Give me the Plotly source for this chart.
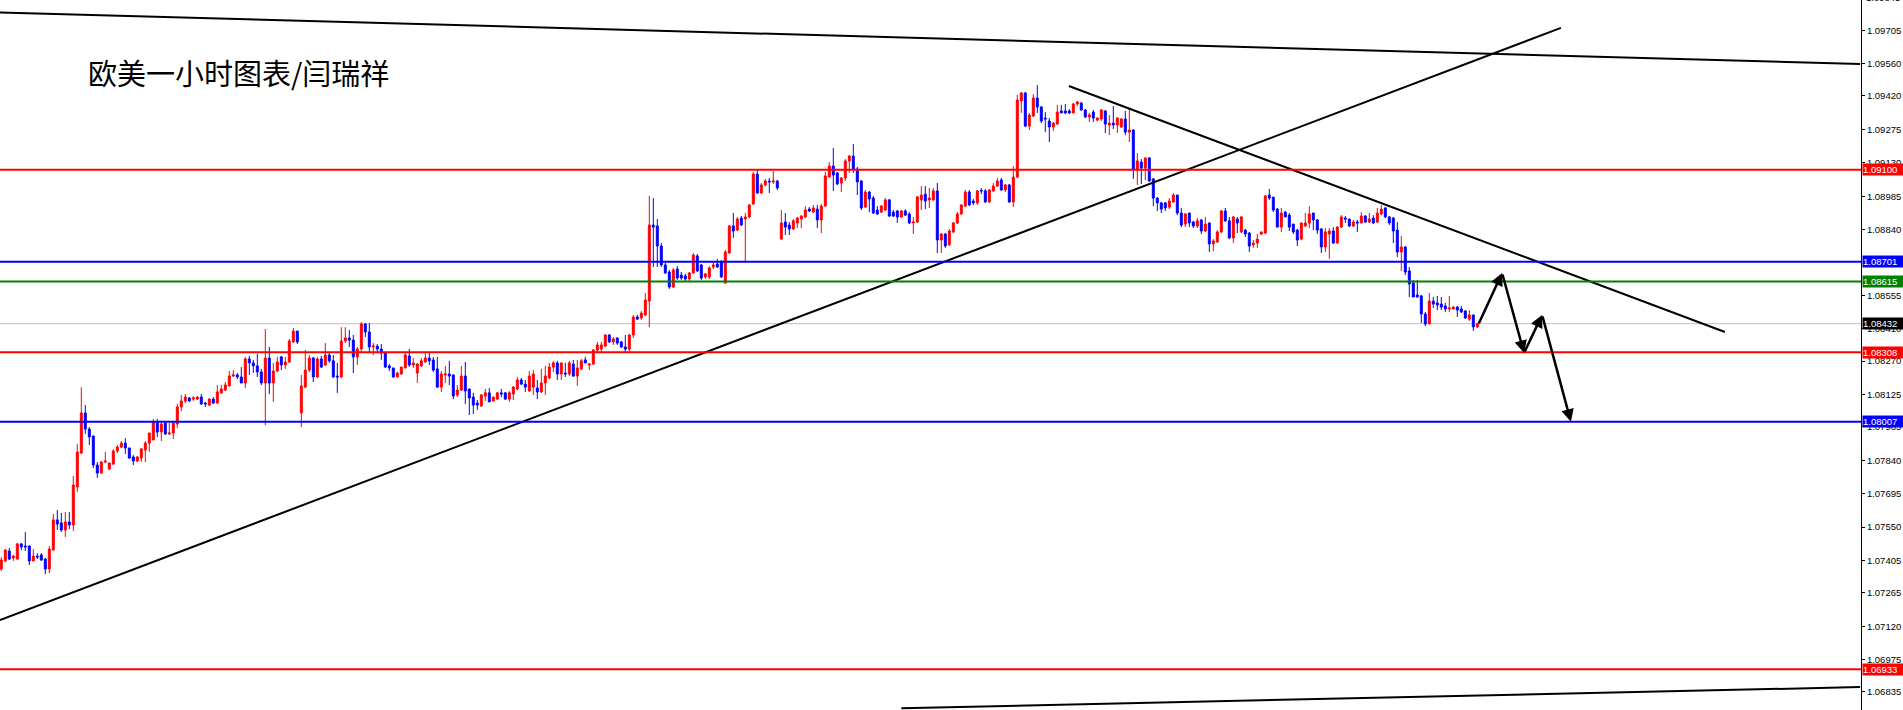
import plotly.graph_objects as go

# ---------------- OHLC data (EURUSD H1) ----------------
opens = [
1.07368,1.07403,1.07446,1.07416,1.07411,1.07477,1.07468,1.07468,1.07403,1.07424,
1.07429,1.07411,1.07368,1.07450,1.07581,1.07568,1.07537,1.07572,1.07559,1.07724,
1.07871,1.08045,1.07975,1.07945,1.07819,1.07784,1.07832,1.07802,1.07823,1.07880,
1.07897,1.07914,1.07893,1.07854,1.07836,1.07849,1.07884,1.07914,1.07928,1.08001,
1.07962,1.08001,1.07954,1.07958,1.07997,1.08071,1.08097,1.08110,1.08105,1.08105,
1.08114,1.08088,1.08079,1.08105,1.08088,1.08132,1.08144,1.08162,1.08205,1.08210,
1.08201,1.08175,1.08279,1.08262,1.08249,1.08223,1.08175,1.08283,1.08175,1.08227,
1.08288,1.08253,1.08266,1.08353,1.08400,1.08045,1.08157,1.08231,1.08283,1.08201,
1.08279,1.08253,1.08296,1.08271,1.08205,1.08201,1.08357,1.08370,1.08361,1.08288,
1.08322,1.08431,1.08396,1.08331,1.08335,1.08322,1.08305,1.08249,1.08240,1.08201,
1.08214,1.08240,1.08292,1.08253,1.08218,1.08249,1.08266,1.08283,1.08275,1.08236,
1.08157,1.08210,1.08214,1.08210,1.08123,1.08144,1.08205,1.08149,1.08114,1.08088,
1.08075,1.08118,1.08132,1.08097,1.08105,1.08132,1.08132,1.08105,1.08127,1.08149,
1.08188,1.08170,1.08140,1.08157,1.08153,1.08136,1.08175,1.08197,1.08244,1.08262,
1.08214,1.08218,1.08214,1.08257,1.08205,1.08236,1.08275,1.08253,1.08257,1.08318,
1.08322,1.08335,1.08383,1.08353,1.08370,1.08353,1.08331,1.08322,1.08383,1.08461,
1.08457,1.08470,1.08530,1.08860,1.08856,1.08769,1.08687,1.08656,1.08591,1.08669,
1.08643,1.08639,1.08626,1.08652,1.08726,1.08687,1.08635,1.08635,1.08678,1.08691,
1.08700,1.08609,1.08739,1.08856,1.08838,1.08890,1.08886,1.08895,1.08951,1.09081,
1.08999,1.09034,1.09051,1.09047,1.09051,1.08799,1.08873,1.08860,1.08843,1.08869,
1.08886,1.08895,1.08929,1.08916,1.08929,1.08882,1.08942,1.09068,1.09116,1.09086,
1.09042,1.09064,1.09138,1.09159,1.09103,1.09051,1.08938,1.09003,1.08977,1.08925,
1.08916,1.08925,1.08969,1.08916,1.08921,1.08895,1.08921,1.08908,1.08869,1.08873,
1.08969,1.08994,1.08969,1.08969,1.09008,1.08795,1.08821,1.08774,1.08830,1.08869,
1.08908,1.08942,1.09003,1.08964,1.08956,1.09010,1.09008,1.08960,1.09008,1.09029,
1.09055,1.09012,1.09034,1.08960,1.09068,1.09398,1.09433,1.09289,1.09333,1.09411,
1.09372,1.09324,1.09311,1.09285,1.09298,1.09355,1.09355,1.09355,1.09346,1.09385,
1.09389,1.09359,1.09329,1.09350,1.09315,1.09320,1.09355,1.09294,1.09302,1.09294,
1.09285,1.09320,1.09263,1.09272,1.09099,1.09133,1.09107,1.09151,1.09060,1.08977,
1.08956,1.08956,1.08938,1.08960,1.08990,1.08912,1.08864,1.08912,1.08873,1.08856,
1.08882,1.08834,1.08869,1.08778,1.08787,1.08830,1.08921,1.08878,1.08804,1.08886,
1.08830,1.08838,1.08825,1.08774,1.08782,1.08821,1.08825,1.08990,1.08981,1.08929,
1.08851,1.08916,1.08903,1.08864,1.08838,1.08799,1.08856,1.08869,1.08912,1.08882,
1.08843,1.08765,1.08821,1.08834,1.08782,1.08851,1.08890,1.08886,1.08856,1.08873,
1.08869,1.08899,1.08873,1.08890,1.08873,1.08908,1.08934,1.08895,1.08890,1.08838,
1.08743,1.08765,1.08661,1.08609,1.08557,1.08553,1.08474,1.08431,1.08530,1.08522,
1.08517,1.08509,1.08496,1.08496,1.08504,1.08496,1.08487,1.08452,1.08470,1.08418,
]

highs = [
1.07420,1.07455,1.07459,1.07429,1.07481,1.07481,1.07528,1.07469,1.07455,1.07437,
1.07437,1.07416,1.07468,1.07607,1.07624,1.07611,1.07615,1.07615,1.07772,1.07910,
1.08157,1.08079,1.07984,1.07946,1.07832,1.07836,1.07876,1.07829,1.07889,1.07906,
1.07923,1.07936,1.07894,1.07862,1.07858,1.07893,1.07923,1.07959,1.08019,1.08019,
1.08001,1.08002,1.08001,1.08002,1.08084,1.08123,1.08127,1.08114,1.08118,1.08118,
1.08127,1.08093,1.08110,1.08114,1.08166,1.08166,1.08179,1.08227,1.08231,1.08218,
1.08244,1.08288,1.08292,1.08275,1.08301,1.08236,1.08409,1.08331,1.08262,1.08288,
1.08292,1.08288,1.08366,1.08413,1.08401,1.08210,1.08318,1.08296,1.08288,1.08288,
1.08292,1.08348,1.08309,1.08296,1.08262,1.08417,1.08417,1.08405,1.08383,1.08331,
1.08439,1.08435,1.08435,1.08348,1.08344,1.08344,1.08309,1.08257,1.08241,1.08223,
1.08245,1.08305,1.08322,1.08283,1.08262,1.08283,1.08305,1.08305,1.08288,1.08288,
1.08227,1.08249,1.08271,1.08211,1.08166,1.08249,1.08266,1.08149,1.08132,1.08101,
1.08127,1.08149,1.08153,1.08115,1.08136,1.08149,1.08136,1.08140,1.08162,1.08201,
1.08197,1.08188,1.08227,1.08231,1.08188,1.08236,1.08249,1.08262,1.08271,1.08271,
1.08263,1.08262,1.08271,1.08275,1.08275,1.08279,1.08288,1.08262,1.08322,1.08353,
1.08353,1.08387,1.08387,1.08374,1.08374,1.08357,1.08383,1.08387,1.08470,1.08470,
1.08487,1.08565,1.08986,1.08977,1.08886,1.08782,1.08695,1.08665,1.08674,1.08682,
1.08656,1.08648,1.08656,1.08739,1.08734,1.08691,1.08652,1.08682,1.08700,1.08713,
1.08708,1.08752,1.08860,1.08912,1.08895,1.08899,1.08912,1.08951,1.09090,1.09099,
1.09042,1.09060,1.09064,1.09094,1.09055,1.08925,1.08912,1.08873,1.08886,1.08895,
1.08903,1.08942,1.08938,1.08947,1.08947,1.08951,1.09090,1.09133,1.09194,1.09090,
1.09068,1.09146,1.09164,1.09211,1.09112,1.09055,1.09012,1.09008,1.08986,1.08942,
1.08947,1.08977,1.08973,1.08925,1.08925,1.08925,1.08929,1.08916,1.08895,1.08986,
1.09029,1.09029,1.09021,1.09021,1.09042,1.08825,1.08825,1.08843,1.08873,1.08916,
1.08951,1.09012,1.09012,1.08973,1.09012,1.09021,1.09016,1.09016,1.09042,1.09064,
1.09064,1.09038,1.09038,1.09116,1.09424,1.09437,1.09437,1.09346,1.09428,1.09467,
1.09376,1.09350,1.09324,1.09307,1.09381,1.09381,1.09385,1.09363,1.09389,1.09398,
1.09394,1.09363,1.09346,1.09359,1.09328,1.09363,1.09359,1.09337,1.09376,1.09328,
1.09324,1.09355,1.09368,1.09276,1.09172,1.09146,1.09152,1.09155,1.09064,1.08981,
1.08960,1.08960,1.08977,1.08999,1.08991,1.08934,1.08912,1.08913,1.08878,1.08890,
1.08886,1.08895,1.08870,1.08799,1.08838,1.08925,1.08934,1.08895,1.08899,1.08895,
1.08899,1.08843,1.08830,1.08795,1.08821,1.08831,1.08990,1.09016,1.08982,1.08934,
1.08934,1.08921,1.08912,1.08865,1.08843,1.08870,1.08912,1.08942,1.08913,1.08886,
1.08847,1.08847,1.08847,1.08851,1.08856,1.08903,1.08899,1.08887,1.08882,1.08882,
1.08916,1.08903,1.08912,1.08903,1.08934,1.08947,1.08938,1.08899,1.08895,1.08873,
1.08812,1.08769,1.08678,1.08622,1.08622,1.08554,1.08483,1.08565,1.08548,1.08552,
1.08548,1.08522,1.08552,1.08509,1.08509,1.08509,1.08491,1.08491,1.08471,1.08435,
]

lows = [
1.07359,1.07398,1.07407,1.07403,1.07410,1.07450,1.07446,1.07385,1.07402,1.07411,
1.07403,1.07346,1.07350,1.07449,1.07537,1.07529,1.07507,1.07541,1.07533,1.07702,
1.07867,1.07954,1.07906,1.07806,1.07763,1.07783,1.07828,1.07797,1.07819,1.07871,
1.07893,1.07867,1.07848,1.07819,1.07832,1.07832,1.07832,1.07876,1.07927,1.07941,
1.07923,1.07949,1.07949,1.07932,1.07980,1.08053,1.08088,1.08093,1.08097,1.08101,
1.08079,1.08071,1.08075,1.08084,1.08084,1.08127,1.08140,1.08161,1.08201,1.08192,
1.08174,1.08153,1.08210,1.08218,1.08201,1.08166,1.07992,1.08127,1.08093,1.08222,
1.08231,1.08236,1.08262,1.08348,1.08344,1.07984,1.08153,1.08222,1.08179,1.08197,
1.08240,1.08249,1.08262,1.08197,1.08132,1.08197,1.08348,1.08331,1.08218,1.08253,
1.08309,1.08374,1.08309,1.08296,1.08309,1.08275,1.08240,1.08227,1.08197,1.08200,
1.08210,1.08239,1.08244,1.08240,1.08175,1.08244,1.08262,1.08253,1.08222,1.08153,
1.08136,1.08175,1.08166,1.08105,1.08114,1.08140,1.08084,1.08036,1.08040,1.08058,
1.08071,1.08097,1.08092,1.08093,1.08101,1.08114,1.08101,1.08093,1.08101,1.08144,
1.08166,1.08136,1.08136,1.08123,1.08105,1.08132,1.08123,1.08192,1.08222,1.08188,
1.08188,1.08201,1.08205,1.08201,1.08162,1.08231,1.08261,1.08231,1.08253,1.08305,
1.08309,1.08331,1.08348,1.08340,1.08340,1.08327,1.08309,1.08309,1.08370,1.08448,
1.08448,1.08465,1.08417,1.08678,1.08678,1.08678,1.08648,1.08583,1.08587,1.08622,
1.08622,1.08617,1.08617,1.08648,1.08656,1.08622,1.08626,1.08626,1.08669,1.08674,
1.08630,1.08604,1.08734,1.08804,1.08834,1.08856,1.08695,1.08890,1.08947,1.08995,
1.08995,1.09029,1.08999,1.09038,1.09012,1.08795,1.08817,1.08817,1.08838,1.08847,
1.08847,1.08890,1.08916,1.08912,1.08847,1.08825,1.08941,1.09067,1.09008,1.09034,
1.09003,1.09051,1.09086,1.09086,1.08990,1.08925,1.08934,1.08916,1.08908,1.08903,
1.08912,1.08921,1.08895,1.08895,1.08869,1.08890,1.08899,1.08864,1.08821,1.08869,
1.08925,1.08929,1.08934,1.08964,1.08739,1.08739,1.08761,1.08769,1.08825,1.08864,
1.08903,1.08938,1.08942,1.08947,1.08947,1.08994,1.08956,1.08956,1.09003,1.09025,
1.09008,1.09003,1.08956,1.08938,1.09064,1.09346,1.09285,1.09272,1.09328,1.09346,
1.09302,1.09263,1.09220,1.09268,1.09294,1.09345,1.09341,1.09341,1.09345,1.09376,
1.09355,1.09324,1.09307,1.09307,1.09311,1.09311,1.09259,1.09250,1.09276,1.09259,
1.09281,1.09250,1.09220,1.09060,1.09034,1.09038,1.09055,1.09047,1.08942,1.08921,
1.08912,1.08921,1.08929,1.08956,1.08903,1.08851,1.08851,1.08851,1.08847,1.08847,
1.08821,1.08830,1.08743,1.08747,1.08782,1.08825,1.08873,1.08799,1.08782,1.08825,
1.08825,1.08808,1.08743,1.08761,1.08761,1.08817,1.08821,1.08968,1.08916,1.08850,
1.08830,1.08894,1.08834,1.08821,1.08769,1.08794,1.08851,1.08847,1.08838,1.08821,
1.08739,1.08743,1.08713,1.08778,1.08778,1.08847,1.08869,1.08851,1.08851,1.08830,
1.08868,1.08869,1.08869,1.08864,1.08869,1.08903,1.08890,1.08860,1.08782,1.08721,
1.08661,1.08643,1.08548,1.08547,1.08544,1.08435,1.08422,1.08430,1.08500,1.08491,
1.08491,1.08483,1.08483,1.08495,1.08461,1.08478,1.08452,1.08444,1.08401,1.08413,
]

closes = [
1.07407,1.07450,1.07411,1.07424,1.07477,1.07464,1.07464,1.07403,1.07424,1.07420,
1.07407,1.07368,1.07455,1.07581,1.07563,1.07537,1.07572,1.07559,1.07732,1.07876,
1.08045,1.07975,1.07941,1.07819,1.07784,1.07832,1.07836,1.07828,1.07880,1.07897,
1.07914,1.07893,1.07849,1.07836,1.07854,1.07889,1.07914,1.07958,1.08006,1.07962,
1.07997,1.07954,1.07958,1.08001,1.08071,1.08097,1.08114,1.08097,1.08110,1.08114,
1.08084,1.08084,1.08105,1.08088,1.08136,1.08149,1.08166,1.08205,1.08210,1.08201,
1.08175,1.08279,1.08262,1.08249,1.08223,1.08175,1.08283,1.08175,1.08227,1.08266,
1.08253,1.08266,1.08357,1.08400,1.08353,1.08162,1.08231,1.08283,1.08201,1.08279,
1.08244,1.08296,1.08271,1.08201,1.08201,1.08357,1.08370,1.08361,1.08288,1.08322,
1.08431,1.08396,1.08331,1.08335,1.08322,1.08305,1.08244,1.08240,1.08201,1.08218,
1.08244,1.08296,1.08253,1.08262,1.08257,1.08271,1.08283,1.08271,1.08231,1.08157,
1.08214,1.08214,1.08205,1.08118,1.08144,1.08205,1.08140,1.08110,1.08079,1.08079,
1.08123,1.08132,1.08093,1.08114,1.08132,1.08127,1.08105,1.08132,1.08157,1.08188,
1.08170,1.08157,1.08205,1.08214,1.08136,1.08175,1.08205,1.08244,1.08262,1.08214,
1.08262,1.08214,1.08262,1.08205,1.08240,1.08271,1.08262,1.08257,1.08318,1.08340,
1.08340,1.08383,1.08353,1.08366,1.08348,1.08331,1.08322,1.08383,1.08461,1.08452,
1.08478,1.08535,1.08860,1.08851,1.08769,1.08687,1.08652,1.08591,1.08665,1.08630,
1.08630,1.08626,1.08652,1.08730,1.08661,1.08630,1.08648,1.08674,1.08687,1.08678,
1.08635,1.08743,1.08856,1.08834,1.08886,1.08860,1.08895,1.08947,1.09081,1.08999,
1.09034,1.09051,1.09047,1.09051,1.09021,1.08869,1.08851,1.08843,1.08878,1.08890,
1.08899,1.08925,1.08921,1.08934,1.08882,1.08942,1.09073,1.09116,1.09077,1.09038,
1.09064,1.09138,1.09159,1.09103,1.09047,1.08934,1.09003,1.08973,1.08912,1.08908,
1.08942,1.08969,1.08899,1.08899,1.08895,1.08921,1.08903,1.08869,1.08873,1.08982,
1.08990,1.08964,1.08977,1.09008,1.08795,1.08821,1.08769,1.08834,1.08869,1.08908,
1.08947,1.09003,1.08947,1.08956,1.09008,1.09008,1.08960,1.09012,1.09029,1.09051,
1.09012,1.09034,1.08960,1.09068,1.09402,1.09433,1.09289,1.09337,1.09411,1.09372,
1.09311,1.09320,1.09285,1.09302,1.09350,1.09346,1.09346,1.09346,1.09385,1.09394,
1.09359,1.09329,1.09337,1.09324,1.09324,1.09359,1.09298,1.09302,1.09294,1.09324,
1.09320,1.09263,1.09272,1.09099,1.09138,1.09107,1.09151,1.09051,1.08977,1.08956,
1.08929,1.08934,1.08964,1.08990,1.08912,1.08860,1.08908,1.08869,1.08856,1.08878,
1.08834,1.08864,1.08778,1.08791,1.08830,1.08921,1.08878,1.08804,1.08895,1.08869,
1.08895,1.08821,1.08769,1.08782,1.08799,1.08830,1.08986,1.08977,1.08925,1.08851,
1.08912,1.08895,1.08851,1.08830,1.08795,1.08869,1.08869,1.08908,1.08882,1.08838,
1.08765,1.08830,1.08834,1.08782,1.08851,1.08895,1.08886,1.08856,1.08873,1.08869,
1.08899,1.08873,1.08886,1.08869,1.08912,1.08929,1.08895,1.08869,1.08834,1.08743,
1.08765,1.08656,1.08604,1.08548,1.08548,1.08474,1.08431,1.08530,1.08517,1.08513,
1.08504,1.08496,1.08500,1.08504,1.08491,1.08483,1.08457,1.08470,1.08418,1.08432,
]

# ---------------- horizontal levels ----------------
level_prices = [1.09100, 1.08701, 1.08615, 1.08308, 1.08007, 1.06933]
level_colors = ["#FF0000", "#0000FF", "#008000", "#FF0000", "#0000FF", "#FF0000"]
current_price = 1.08432

# ---------------- right axis ticks ----------------
axis_ticks = [1.09705, 1.09560, 1.09420, 1.09275, 1.09130, 1.08985, 1.08840,
              1.08555, 1.08410, 1.08270, 1.08125, 1.07985, 1.07840, 1.07695,
              1.07550, 1.07405, 1.07265, 1.07120, 1.06975, 1.06835]
top_tick = 1.09845

# ---------------- trend lines (bar index, price) ----------------
trend_x0 = [-0.33, -0.33, 266.9, 225.0]
trend_p0 = [1.09782, 1.07147, 1.09463, 1.06764]
trend_x1 = [464.7, 389.9, 430.9, 464.7]
trend_p1 = [1.09558, 1.09715, 1.08396, 1.06856]

# ---------------- projected path arrows (bar index, price) ----------------
arrow_x = [369.2, 375.2, 380.7, 385.2, 392.4]
arrow_p = [1.08426, 1.08652, 1.08305, 1.08470, 1.08007]

title_text = "欧美一小时图表/闫瑞祥"

X_RANGE = [-0.325, 464.925]
Y_RANGE = [1.067565, 1.09836]
AXIS_FONT = dict(family="Liberation Sans", size=9.5, color="black")

n = len(closes)
x_index = list(range(n))
hi = [max(h, o, c) for h, o, c in zip(highs, opens, closes)]
lo = [min(l, o, c) for l, o, c in zip(lows, opens, closes)]

fig = go.Figure()

fig.add_trace(go.Candlestick(
    x=x_index, open=opens, high=hi, low=lo, close=closes,
    increasing=dict(line=dict(color="#FF0000", width=1), fillcolor="#FF0000"),
    decreasing=dict(line=dict(color="#0000FF", width=1), fillcolor="#0000FF"),
    whiskerwidth=0, hoverinfo="skip", showlegend=False,
))

for k in range(len(trend_x0)):
    fig.add_trace(go.Scatter(
        x=[trend_x0[k], trend_x1[k]], y=[trend_p0[k], trend_p1[k]],
        mode="lines", line=dict(color="black", width=2),
        hoverinfo="skip", showlegend=False,
    ))

shapes = [dict(type="line", xref="paper", x0=0, x1=1, yref="y",
               y0=current_price, y1=current_price,
               line=dict(color="#C0C0C0", width=1), layer="below")]
for p, c in zip(level_prices, level_colors):
    shapes.append(dict(type="line", xref="paper", x0=0, x1=1, yref="y",
                       y0=p, y1=p, line=dict(color=c, width=2), layer="above"))

annotations = []
# projected path
for k in range(len(arrow_x) - 1):
    annotations.append(dict(
        x=arrow_x[k + 1], y=arrow_p[k + 1], ax=arrow_x[k], ay=arrow_p[k],
        xref="x", yref="y", axref="x", ayref="y", text="",
        showarrow=True, arrowhead=2, arrowsize=1.0, arrowwidth=2.5,
        arrowcolor="black", standoff=0, startstandoff=0,
    ))

# price boxes on the axis
box_items = list(zip(level_prices, level_colors)) + [(current_price, "#000000")]
for p, c in box_items:
    annotations.append(dict(
        xref="paper", x=1, xanchor="left", xshift=1,
        yref="y", y=p, yanchor="middle",
        text=f"{p:.5f}", showarrow=False, bgcolor=c,
        font=dict(family="Liberation Sans", size=9.5, color="white"),
        borderpad=0, width=44, align="left",
    ))

# partially visible top tick label
annotations.append(dict(
    xref="paper", x=1, xanchor="left", xshift=3,
    yref="paper", y=(top_tick - Y_RANGE[0]) / (Y_RANGE[1] - Y_RANGE[0]),
    yanchor="middle", text=f"{top_tick:.5f}", showarrow=False,
    font=AXIS_FONT,
))

# title
annotations.append(dict(
    xref="paper", x=86 / 1861, xanchor="left",
    yref="paper", y=1 - 72 / 710, yanchor="middle",
    text=title_text, showarrow=False,
    font=dict(family="Noto Sans CJK SC", size=29, color="black"),
))

fig.update_layout(
    width=1903, height=710,
    margin=dict(l=0, r=42, t=0, b=0, pad=0),
    paper_bgcolor="white", plot_bgcolor="white",
    showlegend=False, hovermode=False,
    shapes=shapes, annotations=annotations,
    xaxis=dict(range=X_RANGE, visible=False, showgrid=False, zeroline=False,
               rangeslider=dict(visible=False), fixedrange=True),
    yaxis=dict(side="right", range=Y_RANGE, tickvals=axis_ticks,
               ticktext=[f"{v:.5f}" for v in axis_ticks],
               showgrid=False, zeroline=False, showline=True,
               linecolor="black", linewidth=1, ticks="outside", ticklen=3,
               tickwidth=1, tickcolor="black", fixedrange=True,
               tickfont=AXIS_FONT),
)

fig.write_html(
    "out.html",
    config={"displayModeBar": False},
    post_script="document.body.style.margin='0';document.body.style.overflow='hidden';",
)
